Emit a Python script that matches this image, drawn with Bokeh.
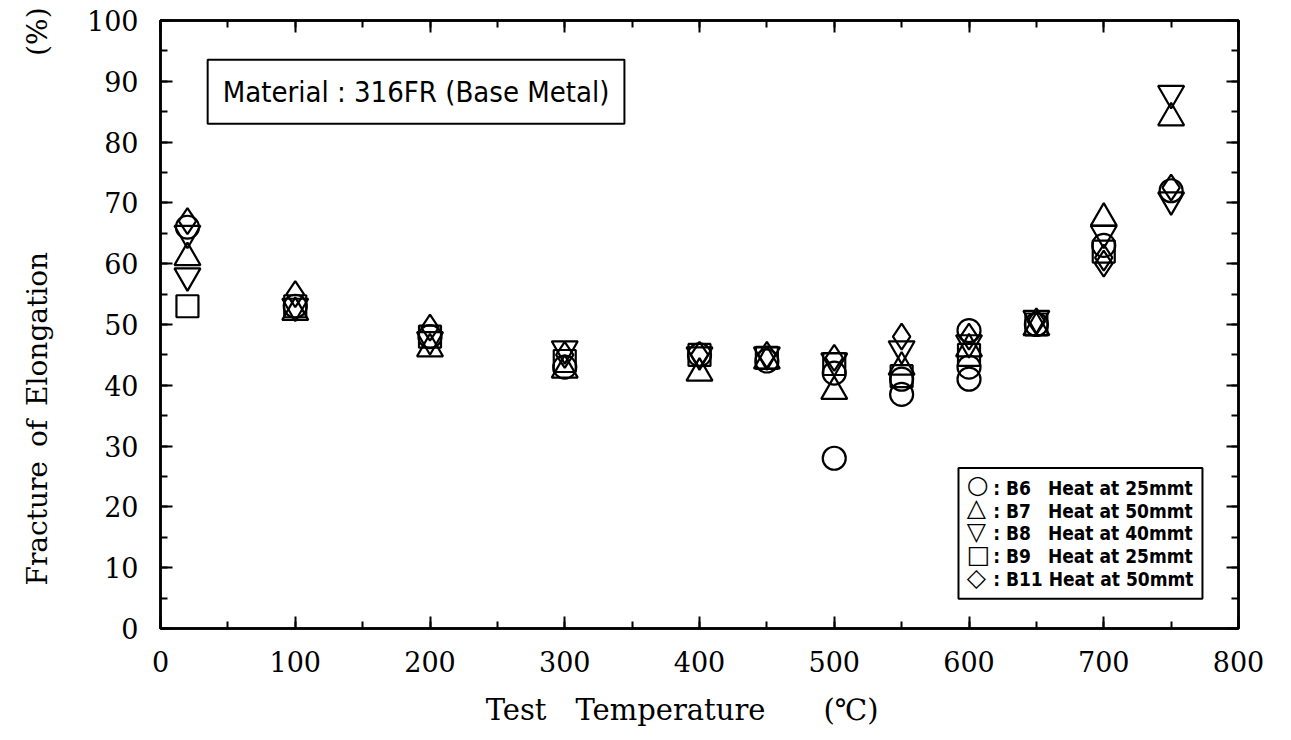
from bokeh.plotting import figure
from bokeh.models import LinearAxis, Label, FixedTicker
from bokeh.embed import file_html
from bokeh.resources import INLINE

# ---- data ----
b6_temp = [20, 100, 200, 300, 400, 450, 500, 500, 550, 550, 600, 600, 600, 650, 700, 750]
b6_elong = [66, 53, 48, 43, 45, 44, 28, 42, 38.5, 41, 41, 43, 49, 50, 63, 72]

b7_temp = [20, 100, 200, 300, 400, 450, 500, 550, 600, 650, 700, 750]
b7_elong = [61, 52, 46, 42.5, 42, 44, 39, 43, 46, 49.5, 67.5, 84]

b8_temp = [20, 20, 100, 200, 300, 400, 450, 500, 550, 600, 650, 700, 750, 750]
b8_elong = [65, 58, 53, 47.5, 46, 45, 45, 44, 46, 47, 51, 65, 88, 70.5]

b9_temp = [20, 100, 200, 300, 400, 450, 500, 550, 600, 650, 700]
b9_elong = [53, 53, 48, 44, 45, 44.5, 43.5, 41.5, 45, 50, 62]

b11_temp = [20, 100, 200, 300, 400, 450, 500, 550, 600, 650, 700, 700, 750]
b11_elong = [67, 55, 49.5, 45, 45, 45, 44.5, 48, 48, 50.5, 60, 61, 72.5]

legend_symbols = ["○", "△", "▽", "□", "◇"]
series_labels = [": B6\u2003Heat at 25mmt", ": B7\u2003Heat at 50mmt", ": B8\u2003Heat at 40mmt",
                 ": B9\u2003Heat at 25mmt", ": B11 Heat at 50mmt"]
x_ticks = [0, 100, 200, 300, 400, 500, 600, 700, 800]
y_ticks = [0, 10, 20, 30, 40, 50, 60, 70, 80, 90, 100]

TICK_FONT = "DejaVu Serif"
COND_FONT = "DejaVu Sans Condensed"

p = figure(width=1283, height=732, x_range=(0, 800), y_range=(0, 100),
           output_backend="svg", toolbar_location=None,
           min_border_left=160, min_border_right=45, min_border_top=20, min_border_bottom=104,
           x_axis_location=None, y_axis_location=None)
p.xgrid.visible = False
p.ygrid.visible = False
p.outline_line_color = "black"
p.outline_line_width = 2.5
p.background_fill_color = "white"
p.border_fill_color = "white"

def style_axis(ax, ticks, show_labels, minor):
    ax.ticker = FixedTicker(ticks=ticks, minor_ticks=minor)
    ax.major_tick_in = 12
    ax.major_tick_out = 0
    ax.minor_tick_in = 7
    ax.minor_tick_out = 0
    ax.major_tick_line_width = 2
    ax.minor_tick_line_width = 2
    ax.axis_line_width = 2.5
    ax.major_tick_line_color = "black"
    ax.minor_tick_line_color = "black"
    ax.axis_line_color = "black"
    if show_labels:
        ax.major_label_text_font = TICK_FONT
        ax.major_label_text_font_size = "27px"
        ax.major_label_text_color = "black"
    else:
        ax.major_label_text_font_size = "0px"
        ax.major_label_text_color = None

x_minor = list(range(0, 801, 50))
y_minor = list(range(0, 101, 5))

xb = LinearAxis()
style_axis(xb, x_ticks, True, x_minor)
xb.major_label_standoff = 22
xb.axis_label = "Test\u2003Temperature\u2003\u2003(℃)\u2003\u2009"
xb.axis_label_text_font = TICK_FONT
xb.axis_label_text_font_size = "29px"
xb.axis_label_text_font_style = "normal"
xb.axis_label_text_color = "black"
xb.axis_label_standoff = 18
p.add_layout(xb, "below")

yl = LinearAxis()
style_axis(yl, y_ticks, True, y_minor)
yl.major_label_standoff = 22
yl.axis_label = "\u2003\u2003Fracture\u2002of\u2002Elongation\u2003\u2003\u2003\u2003\u2003\u2003\u2003(%)"
yl.axis_label_text_font = TICK_FONT
yl.axis_label_text_font_size = "28px"
yl.axis_label_text_font_style = "normal"
yl.axis_label_text_color = "black"
yl.axis_label_standoff = 30
p.add_layout(yl, "left")

xt = LinearAxis()
style_axis(xt, x_ticks, False, x_minor)
p.add_layout(xt, "above")

yr = LinearAxis()
style_axis(yr, y_ticks, False, y_minor)
p.add_layout(yr, "right")

SZ = 23
LW = 2.2
p.scatter(b6_temp, b6_elong, marker="circle", size=SZ, fill_color="white", fill_alpha=0,
          line_color="black", line_width=LW)
p.scatter(b7_temp, b7_elong, marker="triangle", size=SZ + 3, fill_color="white", fill_alpha=0,
          line_color="black", line_width=LW)
p.scatter(b8_temp, b8_elong, marker="inverted_triangle", size=SZ + 3, fill_color="white", fill_alpha=0,
          line_color="black", line_width=LW)
p.scatter(b9_temp, b9_elong, marker="square", size=SZ - 1, fill_color="white", fill_alpha=0,
          line_color="black", line_width=LW)
p.scatter(b11_temp, b11_elong, marker="diamond", size=SZ + 3, fill_color="white", fill_alpha=0,
          line_color="black", line_width=LW)

legend_text = "\n".join(f"\u2003\u2002{lab}" for lab in series_labels)
leg = Label(x=592.2, y=4.9, text=legend_text, x_units="data", y_units="data",
            text_font=COND_FONT, text_font_style="bold", text_font_size="19px",
            text_line_height=1.03, text_align="left", text_baseline="bottom",
            text_color="black", border_line_color="black", border_line_width=2,
            background_fill_color="white", padding=9)
p.add_layout(leg)

sym = Label(x=598.4, y=6.0, text="\n".join(legend_symbols), x_units="data", y_units="data",
            text_font="DejaVu Sans", text_font_size="25px",
            text_line_height=0.8, text_align="left", text_baseline="bottom",
            text_color="black")
p.add_layout(sym)

mat = Label(x=35, y=88.3, text="Material : 316FR (Base Metal)", x_units="data", y_units="data",
            text_font=COND_FONT, text_font_size="29px", text_baseline="middle",
            text_color="black", border_line_color="black", border_line_width=2,
            background_fill_color="white", padding=15)
p.add_layout(mat)

open("out.html", "w").write(file_html(p, INLINE))
